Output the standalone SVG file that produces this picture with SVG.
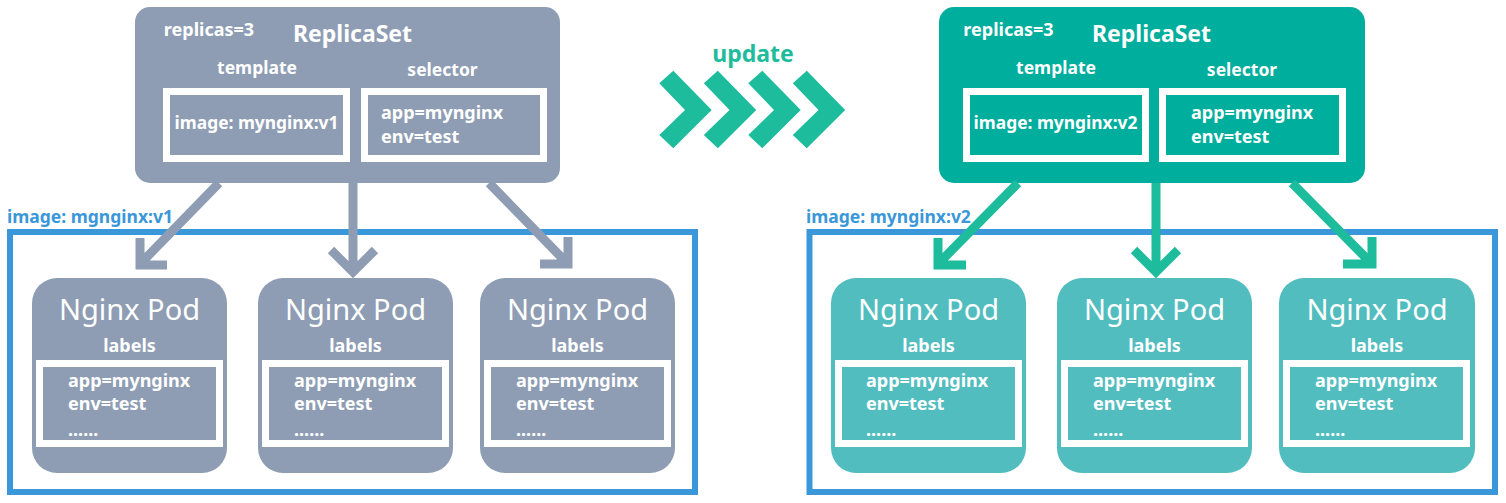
<svg xmlns="http://www.w3.org/2000/svg" width="1506" height="503" viewBox="0 0 1506 503">
<style>
.t{font-family:"Noto Sans","Open Sans","Liberation Sans",sans-serif;fill:#fff}
.rsg{fill:#8E9DB3}
.rst{fill:#00AE9D}
.podg{fill:#8E9DB3}
.podt{fill:#52BDBF}
.wbox{fill:none;stroke:#fff;stroke-width:7}
.cont{fill:none;stroke:#3A97D9;stroke-width:6}
.clabel{font-family:"Noto Sans","Open Sans","Liberation Sans",sans-serif;font-weight:bold;fill:#3A97D9;font-size:17.5px}
.cg{fill:none;stroke:#8E9DB3;stroke-width:9}
.ct{fill:none;stroke:#1DBC9C;stroke-width:9}
.rep{font-size:18px;font-weight:bold}
.title{font-size:23px;font-weight:bold}
.sub{font-size:17.5px;font-weight:bold}
.img{font-size:17.4px;font-weight:bold}
.sel{font-size:18px;font-weight:bold}
.podname{font-size:29px}
.lbl{font-size:18px;font-weight:bold}
.kv{font-size:18px;font-weight:bold}
</style>

<!-- containers -->
<g id="container-v1">
<rect class="cont" x="10" y="232" width="685" height="260"/>
<text class="clabel" x="7" y="223">image: mgnginx:v1</text>
</g>
<g id="container-v2">
<rect class="cont" x="809.5" y="232" width="685.5" height="260"/>
<text class="clabel" x="806" y="223">image: mynginx:v2</text>
</g>

<!-- ReplicaSet v1 -->
<g id="replicaset-v1">
<rect class="rsg" x="135" y="7" width="425" height="176" rx="15"/>
<text class="t rep" x="209" y="36" text-anchor="middle">replicas=3</text>
<text class="t title" x="352.5" y="42" text-anchor="middle">ReplicaSet</text>
<text class="t sub" x="257" y="74" text-anchor="middle">template</text>
<text class="t sub" x="442.5" y="76" text-anchor="middle">selector</text>
<rect class="wbox" x="166.5" y="91.5" width="180" height="67"/>
<text class="t img" x="256.5" y="129" text-anchor="middle">image: mynginx:v1</text>
<rect class="wbox" x="364.5" y="91.5" width="179" height="67"/>
<text class="t sel" x="381" y="119">app=mynginx</text>
<text class="t sel" x="381" y="143">env=test</text>
</g>

<!-- ReplicaSet v2 -->
<g id="replicaset-v2">
<rect class="rst" x="939" y="7" width="426" height="176" rx="15"/>
<text class="t rep" x="1008.5" y="36" text-anchor="middle">replicas=3</text>
<text class="t title" x="1151.5" y="42" text-anchor="middle">ReplicaSet</text>
<text class="t sub" x="1056" y="74" text-anchor="middle">template</text>
<text class="t sub" x="1242" y="76" text-anchor="middle">selector</text>
<rect class="wbox" x="966.5" y="91.5" width="179" height="67"/>
<text class="t img" x="1055.5" y="129" text-anchor="middle">image: mynginx:v2</text>
<rect class="wbox" x="1162.5" y="91.5" width="180" height="67"/>
<text class="t sel" x="1191" y="119">app=mynginx</text>
<text class="t sel" x="1191" y="143">env=test</text>
</g>

<!-- update arrow -->
<g id="update">
<text x="753" y="62" text-anchor="middle" font-family="Noto Sans, Open Sans, Liberation Sans, sans-serif" font-size="23" font-weight="bold" fill="#1DBC9C">update</text>
<g fill="#1DBC9C">
<polygon points="659.3,83.3 673.3,70.7 711.7,110 673.3,148.3 659.3,135 685,110"/>
<polygon transform="translate(44.5,0)" points="659.3,83.3 673.3,70.7 711.7,110 673.3,148.3 659.3,135 685,110"/>
<polygon transform="translate(89,0)" points="659.3,83.3 673.3,70.7 711.7,110 673.3,148.3 659.3,135 685,110"/>
<polygon transform="translate(133.5,0)" points="659.3,83.3 673.3,70.7 711.7,110 673.3,148.3 659.3,135 685,110"/>
</g>
</g>

<!-- Pods v1 -->
<g id="pod-v1-1">
<rect class="podg" x="32" y="278" width="195" height="195" rx="25"/>
<text class="t podname" x="129.5" y="320" text-anchor="middle">Nginx Pod</text>
<text class="t lbl" x="129.5" y="352" text-anchor="middle">labels</text>
<rect class="wbox" x="39.5" y="363.5" width="180" height="80"/>
<text class="t kv" x="68" y="387">app=mynginx</text>
<text class="t kv" x="68" y="410">env=test</text>
<text class="t kv" x="68" y="436">......</text>
</g>
<g id="pod-v1-2">
<rect class="podg" x="258" y="278" width="195" height="195" rx="25"/>
<text class="t podname" x="355.5" y="320" text-anchor="middle">Nginx Pod</text>
<text class="t lbl" x="355.5" y="352" text-anchor="middle">labels</text>
<rect class="wbox" x="265.5" y="363.5" width="180" height="80"/>
<text class="t kv" x="294" y="387">app=mynginx</text>
<text class="t kv" x="294" y="410">env=test</text>
<text class="t kv" x="294" y="436">......</text>
</g>
<g id="pod-v1-3">
<rect class="podg" x="480" y="278" width="195" height="195" rx="25"/>
<text class="t podname" x="577.5" y="320" text-anchor="middle">Nginx Pod</text>
<text class="t lbl" x="577.5" y="352" text-anchor="middle">labels</text>
<rect class="wbox" x="487.5" y="363.5" width="180" height="80"/>
<text class="t kv" x="516" y="387">app=mynginx</text>
<text class="t kv" x="516" y="410">env=test</text>
<text class="t kv" x="516" y="436">......</text>
</g>

<!-- Pods v2 -->
<g id="pod-v2-1">
<rect class="podt" x="831" y="278" width="195" height="195" rx="25"/>
<text class="t podname" x="928.5" y="320" text-anchor="middle">Nginx Pod</text>
<text class="t lbl" x="928.5" y="352" text-anchor="middle">labels</text>
<rect class="wbox" x="838.5" y="363.5" width="180" height="80"/>
<text class="t kv" x="866" y="387">app=mynginx</text>
<text class="t kv" x="866" y="410">env=test</text>
<text class="t kv" x="866" y="436">......</text>
</g>
<g id="pod-v2-2">
<rect class="podt" x="1057" y="278" width="195" height="195" rx="25"/>
<text class="t podname" x="1154.5" y="320" text-anchor="middle">Nginx Pod</text>
<text class="t lbl" x="1154.5" y="352" text-anchor="middle">labels</text>
<rect class="wbox" x="1064.5" y="363.5" width="180" height="80"/>
<text class="t kv" x="1093" y="387">app=mynginx</text>
<text class="t kv" x="1093" y="410">env=test</text>
<text class="t kv" x="1093" y="436">......</text>
</g>
<g id="pod-v2-3">
<rect class="podt" x="1279" y="278" width="196" height="195" rx="25"/>
<text class="t podname" x="1377" y="320" text-anchor="middle">Nginx Pod</text>
<text class="t lbl" x="1377" y="352" text-anchor="middle">labels</text>
<rect class="wbox" x="1286.5" y="363.5" width="180" height="80"/>
<text class="t kv" x="1315" y="387">app=mynginx</text>
<text class="t kv" x="1315" y="410">env=test</text>
<text class="t kv" x="1315" y="436">......</text>
</g>

<!-- connectors -->
<g id="connectors">
<path class="cg" d="M219,183 L142,262 M140,238 V265 H167"/>
<path class="cg" d="M353,183 V270 M331,250 L353,272 L375,250"/>
<path class="cg" d="M489,183 L566,262 M540,264 H568 V237"/>
<path class="ct" d="M1018,183 L940,262 M938,238 V265 H966"/>
<path class="ct" d="M1156,183 V270 M1134,250 L1156,272 L1178,250"/>
<path class="ct" d="M1292,183 L1370,262 M1343,264 H1372 V237"/>
</g>
</svg>
